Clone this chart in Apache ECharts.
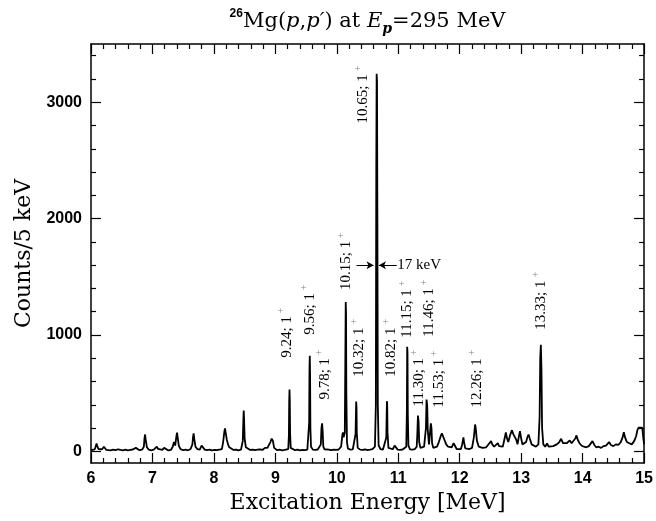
<!DOCTYPE html>
<html><head><meta charset="utf-8">
<script src="https://cdn.jsdelivr.net/npm/echarts@6/dist/echarts.min.js"></script>
<style>html,body{margin:0;padding:0;background:#fff}#c{width:656px;height:521px}</style>
</head><body><div id="c"></div>
<script>
// ---- data ----
const yMajorTicks = [0, 1000, 2000, 3000];
const yMinorTicks = [200, 400, 600, 800, 1200, 1400, 1600, 1800, 2200, 2400, 2600, 2800, 3200, 3400];

const spectrum6to9 = [
[6.00,10],[6.03,22],[6.06,18],[6.08,45],[6.09,68],[6.10,50],[6.12,20],[6.15,15],[6.18,18],[6.20,32],[6.21,40],[6.22,28],[6.25,12],[6.28,15],[6.32,8],[6.36,14],[6.40,10],[6.44,18],[6.46,24],[6.48,12],[6.52,9],[6.56,14],[6.60,8],[6.64,12],[6.68,16],[6.71,22],[6.73,30],[6.75,18],[6.79,10],[6.83,14],[6.86,40],[6.87,110],[6.88,145],[6.89,100],[6.91,35],[6.94,14],[6.98,9],[7.02,14],[7.05,28],[7.07,40],[7.09,22],[7.12,10],[7.16,12],[7.19,30],[7.20,35],[7.22,20],[7.26,8],[7.30,12],[7.33,40],[7.35,80],[7.37,50],[7.39,130],[7.40,160],[7.41,120],[7.43,45],[7.46,18],[7.50,10],[7.54,14],[7.58,9],[7.62,20],[7.65,60],[7.66,120],[7.67,154],[7.68,110],[7.70,40],[7.73,20],[7.77,14],[7.80,50],[7.81,60],[7.82,40],[7.85,15],[7.89,10],[7.93,14],[7.97,8],[8.01,12],[8.05,10],[8.09,15],[8.13,20],[8.15,80],[8.17,170],[8.18,197],[8.19,165],[8.21,100],[8.23,60],[8.25,35],[8.28,20],[8.32,12],[8.36,15],[8.40,9],[8.44,14],[8.47,90],[8.48,280],[8.485,351],[8.49,290],[8.50,110],[8.52,35],[8.55,20],[8.59,12],[8.63,15],[8.67,10],[8.71,14],[8.75,18],[8.79,12],[8.83,30],[8.85,45],[8.87,30],[8.90,40],[8.92,80],[8.94,110],[8.95,120],[8.96,90],[8.98,30],[9.00,14]
];
const spectrum9to12 = [
[9.03,10],[9.07,14],[9.11,9],[9.15,13],[9.18,11],[9.21,20],[9.22,140],[9.225,420],[9.23,531],[9.235,430],[9.24,150],[9.25,30],[9.28,15],[9.32,10],[9.36,14],[9.40,9],[9.44,13],[9.48,10],[9.52,14],[9.54,30],[9.55,250],[9.555,700],[9.56,822],[9.565,650],[9.57,200],[9.58,40],[9.61,15],[9.65,12],[9.69,16],[9.72,22],[9.74,60],[9.75,200],[9.76,240],[9.77,170],[9.78,40],[9.80,18],[9.83,12],[9.87,15],[9.91,10],[9.95,14],[9.99,12],[10.03,16],[10.07,40],[10.09,140],[10.10,163],[10.11,120],[10.13,160],[10.14,900],[10.145,1284],[10.15,1180],[10.155,500],[10.165,80],[10.18,25],[10.22,15],[10.26,18],[10.29,25],[10.305,150],[10.315,428],[10.32,380],[10.325,160],[10.34,30],[10.38,15],[10.42,12],[10.46,16],[10.50,11],[10.54,15],[10.58,20],[10.62,40],[10.635,400],[10.642,2400],[10.648,3245],[10.654,3180],[10.66,2000],[10.667,400],[10.68,50],[10.71,20],[10.75,14],[10.78,20],[10.805,120],[10.815,431],[10.82,400],[10.825,160],[10.84,30],[10.87,15],[10.91,18],[10.94,50],[10.95,60],[10.96,40],[10.99,15],[11.03,12],[11.07,16],[11.10,14],[11.13,40],[11.14,350],[11.145,899],[11.15,850],[11.155,320],[11.165,50],[11.19,18],[11.23,14],[11.27,20],[11.30,40],[11.31,150],[11.32,308],[11.33,260],[11.34,80],[11.36,30],[11.39,20],[11.42,40],[11.45,200],[11.46,445],[11.47,400],[11.48,180],[11.50,60],[11.52,180],[11.53,240],[11.54,200],[11.55,70],[11.57,30],[11.60,22],[11.63,40],[11.66,80],[11.69,130],[11.71,154],[11.73,140],[11.75,100],[11.78,60],[11.81,40],[11.84,25],[11.87,35],[11.90,70],[11.91,77],[11.92,50],[11.95,20],[11.98,15]
];
const spectrum12to15 = [
[12.02,20],[12.04,60],[12.06,120],[12.07,80],[12.09,25],[12.12,15],[12.16,20],[12.20,30],[12.23,120],[12.25,231],[12.26,200],[12.28,90],[12.31,40],[12.34,25],[12.37,30],[12.40,45],[12.43,35],[12.46,55],[12.49,70],[12.51,88],[12.53,60],[12.56,40],[12.59,55],[12.62,70],[12.64,45],[12.67,30],[12.70,40],[12.73,110],[12.75,163],[12.77,110],[12.79,80],[12.82,140],[12.85,182],[12.87,150],[12.90,145],[12.92,100],[12.94,60],[12.96,120],[12.98,174],[13.00,110],[13.02,60],[13.05,50],[13.08,80],[13.10,120],[13.12,145],[13.14,110],[13.17,60],[13.20,45],[13.24,40],[13.28,60],[13.30,300],[13.31,800],[13.32,916],[13.33,700],[13.34,200],[13.36,60],[13.39,40],[13.42,68],[13.45,40],[13.48,30],[13.52,45],[13.55,40],[13.58,60],[13.62,80],[13.65,108],[13.68,70],[13.71,55],[13.74,70],[13.77,85],[13.79,94],[13.82,70],[13.85,80],[13.88,110],[13.90,137],[13.92,100],[13.95,70],[13.98,50],[14.02,40],[14.06,35],[14.10,45],[14.13,60],[14.16,88],[14.19,55],[14.22,35],[14.26,40],[14.30,30],[14.34,45],[14.38,50],[14.41,60],[14.43,80],[14.46,55],[14.50,45],[14.54,60],[14.58,55],[14.62,80],[14.65,120],[14.67,165],[14.69,120],[14.72,80],[14.76,70],[14.80,60],[14.84,90],[14.87,130],[14.89,180],[14.91,203],[14.97,203],[14.99,100],[15.0,60]
];

const levelLabels = ['9.24; 1','9.56; 1','9.78; 1','10.15; 1','10.32; 1','10.65; 1','10.82; 1','11.15; 1','11.30; 1','11.46; 1','11.53; 1','12.26; 1','13.33; 1'];
const labelEnergy = [9.184, 9.557, 9.801, 10.158, 10.37, 10.435, 10.89, 11.15, 11.344, 11.507, 11.67, 12.286, 13.326];
const labelCounts = [805, 1002, 445, 1387, 642, 2817, 642, 976, 385, 985, 377, 377, 1045];

const widthText = '17 keV';
const widthArrowFrom = [10.32, 10.975];
const widthArrowTo = [10.598, 10.685];
const widthCounts = 1600;

// ---- chart ----
const chart = echarts.init(document.getElementById('c'), null, {renderer: 'canvas'});
const spectrum = spectrum6to9.concat(spectrum9to12, spectrum12to15);
const tickFont = {fontFamily: 'Liberation Sans', fontWeight: 'bold', fontSize: 16, color: '#000'};
const nameFont = {fontFamily: 'DejaVu Serif', fontSize: 22, color: '#000'};
const lineBlack = {color: '#000', width: 1.5};
const plain = v => String(v);

function xAx(pos, showLabel) {
  return {
    type: 'value', position: pos, min: 6, max: 15, interval: 1,
    name: showLabel ? 'Excitation Energy [MeV]' : '',
    nameLocation: 'middle', nameGap: 29, nameTextStyle: nameFont,
    axisLine: {show: true, onZero: false, lineStyle: lineBlack},
    axisTick: {show: true, inside: true, length: 10, lineStyle: {color: '#000', width: 1.2}},
    minorTick: {show: true, splitNumber: 5, length: 5, lineStyle: {color: '#000', width: 1.2}},
    axisLabel: Object.assign({show: showLabel, margin: 8, formatter: plain}, tickFont),
    splitLine: {show: false}, minorSplitLine: {show: false}
  };
}
function yAx(pos, major, showLabel) {
  return {
    type: 'value', position: pos, min: -100, max: 3500,
    name: showLabel ? 'Counts/5 keV' : '',
    nameLocation: 'middle', nameGap: 56, nameTextStyle: nameFont,
    axisLine: {show: major, onZero: false, lineStyle: lineBlack},
    axisTick: {show: true, inside: true, length: major ? 10 : 5,
      customValues: major ? yMajorTicks : yMinorTicks, lineStyle: {color: '#000', width: 1.2}},
    axisLabel: Object.assign({show: showLabel, margin: 9, customValues: yMajorTicks, formatter: plain}, tickFont),
    splitLine: {show: false}
  };
}

chart.setOption({
  animation: false,
  backgroundColor: '#fff',
  grid: {left: 91, right: 11, top: 44, bottom: 58, containLabel: false},
  xAxis: [xAx('bottom', true), xAx('top', false)],
  yAxis: [yAx('left', true, true), yAx('left', false, false), yAx('right', true, false), yAx('right', false, false)],
  series: [{
    type: 'line', xAxisIndex: 0, yAxisIndex: 0, data: spectrum,
    showSymbol: false, symbol: 'none', sampling: null,
    lineStyle: {color: '#000', width: 1.8}, itemStyle: {color: '#000'},
    markLine: {
      silent: true, symbol: ['none', 'arrow'], symbolSize: [6, 7], precision: 3,
      label: {show: false},
      lineStyle: {color: '#000', width: 1, type: 'solid'},
      emphasis: {disabled: true},
      data: widthArrowFrom.map((f, i) => [{coord: [f, widthCounts]}, {coord: [widthArrowTo[i], widthCounts]}])
    }
  }]
});

// ---- text annotations placed through the chart's scales ----
const ctx = document.createElement('canvas').getContext('2d');
const labFont = '15px "Liberation Serif"';
ctx.font = labFont;
const graphics = [];
levelLabels.forEach((t, i) => {
  const p = chart.convertToPixel({seriesIndex: 0}, [labelEnergy[i], labelCounts[i]]);
  const w = ctx.measureText(t).width;
  graphics.push({type: 'text', x: p[0], y: p[1], rotation: Math.PI / 2, silent: true,
    style: {text: t, font: labFont, fill: '#000', align: 'left', verticalAlign: 'middle'}});
  graphics.push({type: 'text', x: p[0] - 6, y: p[1] - w - 5, silent: true,
    style: {text: '+', font: '11px "Liberation Serif"', fill: '#888', align: 'center', verticalAlign: 'middle'}});
});
const tp = chart.convertToPixel({seriesIndex: 0}, [widthArrowFrom[1] + 0.01, widthCounts]);
graphics.push({type: 'text', x: tp[0], y: tp[1], silent: true,
  style: {text: widthText, font: '15px "Liberation Serif"', fill: '#000', align: 'left', verticalAlign: 'middle'}});
const cx = chart.convertToPixel({xAxisIndex: 0}, 10.5);
graphics.push({type: 'text', x: cx, y: 22, silent: true,
  style: {
    text: '{sup|26}{r|Mg(}{i|p}{r|,}{i|p′}{r|) at }{i|E}{sub|p}{r|=295 MeV}',
    align: 'center', verticalAlign: 'middle',
    rich: {
      r: {fontFamily: 'DejaVu Serif', fontSize: 21, lineHeight: 28, fill: '#000'},
      i: {fontFamily: 'DejaVu Serif', fontStyle: 'italic', fontSize: 21, lineHeight: 28, fill: '#000'},
      sup: {fontFamily: 'Liberation Sans', fontWeight: 'bold', fontSize: 12, lineHeight: 12, verticalAlign: 'top', fill: '#000'},
      sub: {fontFamily: 'DejaVu Serif', fontStyle: 'italic', fontWeight: 'bold', fontSize: 14, lineHeight: 14, verticalAlign: 'bottom', fill: '#000'}
    }
  }});
chart.setOption({graphic: graphics});
</script></body></html>
